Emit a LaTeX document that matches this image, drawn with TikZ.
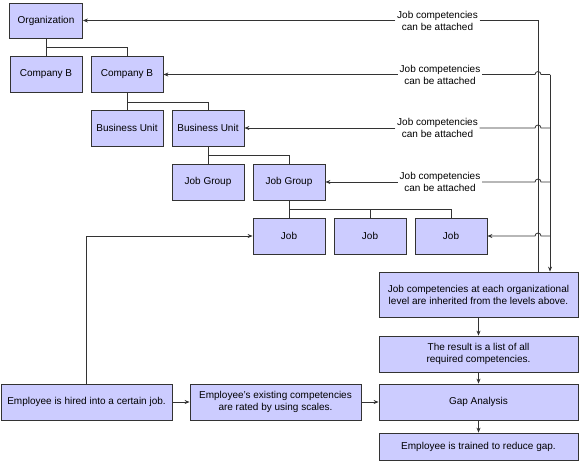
\documentclass[tikz,border=0pt]{standalone}
\usepackage{fontspec}
\setmainfont{Liberation Sans}
\usepackage{tikz}
\usetikzlibrary{arrows.meta}
\definecolor{boxfill}{RGB}{204,204,255}
\definecolor{boxline}{RGB}{51,51,51}

\begin{document}
\begin{tikzpicture}[x=1pt, y=1pt, ->, >={Stealth[length=5pt,width=4pt]}, boxline, line width=0.8pt,
  font=\fontsize{10}{12}\selectfont,
  every node/.style={text=black, align=center},
  unit/.style={draw=boxline, fill=boxfill, minimum width=72pt, minimum height=36pt, inner sep=0pt},
  flowbox/.style={unit, minimum width=199pt},
  attach/.style={inner sep=1.5pt}]
\useasboundingbox (0,0) rectangle (580,-463);
% organization levels
\node[unit, minimum width=73pt, minimum height=35pt] (org) at (46,-20.5) {Organization};
\node[unit] (comp1) at (46,-74.5) {Company B};
\node[unit] (comp2) at (127,-74.5) {Company B};
\node[unit] (bu1) at (127,-128) {Business Unit};
\node[unit] (bu2) at (208,-128) {Business Unit};
\node[unit] (jg1) at (208,-182) {Job Group};
\node[unit] (jg2) at (289,-182) {Job Group};
\node[unit] (job1) at (289,-236) {Job};
\node[unit] (job2) at (370,-236) {Job};
\node[unit] (job3) at (451,-236) {Job};
% process
\node[flowbox, minimum height=45pt] (inherit) at (478.5,-294.5) {Job competencies at each organizational\\level are inherited from the levels above.};
\node[flowbox] (result) at (478.5,-354) {The result is a list of all\\required competencies.};
\node[flowbox] (gap) at (478.5,-402) {Gap Analysis};
\node[flowbox, minimum height=27pt] (trained) at (478.5,-446.5) {Employee is trained to reduce gap.};
\node[unit, minimum width=171pt] (hired) at (86.5,-402) {Employee is hired into a certain job.};
\node[unit, minimum width=171pt] (rated) at (275.5,-402) {Employee's existing competencies\\are rated by using scales.};
% labels
\node[attach] (att1) at (437.5,-20.5) {Job competencies\\can be attached};
\node[attach] (att2) at (440,-74.5) {Job competencies\\can be attached};
\node[attach] (att3) at (437.5,-128) {Job competencies\\can be attached};
\node[attach] (att4) at (440,-182) {Job competencies\\can be attached};
\coordinate (trunkA) at (538,-20.5);
\coordinate (trunkB) at (550,-74.5);
% tree
\draw[-] (org) -- (comp1);
\draw[-] (org.south) -- ++(0,-9) -| (comp2.north);
\draw[-] (comp2) -- (bu1);
\draw[-] (comp2.south) -- ++(0,-9) -| (bu2.north);
\draw[-] (bu2) -- (jg1);
\draw[-] (bu2.south) -- ++(0,-9) -| (jg2.north);
\draw[-] (jg2) -- (job1);
\draw[-] (jg2.south) -- ++(0,-9) -| (job2.north);
\draw[-] (jg2.south) -- ++(0,-9) -| (job3.north);
% attachments
\draw (att1) -- (org);
\draw[-] (att1) -- (trunkA) -- (trunkA |- inherit.north);
\draw (att2) -- (comp2);
\draw[-] (att2) -- (535,-74.5) arc[start angle=180, end angle=0, radius=3] -- (trunkB);
\draw (trunkB) -- (trunkB |- inherit.north);
\draw (att3) -- (bu2);
\draw[-] (att3) -- (535,-128) arc[start angle=180, end angle=0, radius=3] -- (trunkB |- att3);
\draw (att4) -- (jg2);
\draw[-] (att4) -- (535,-182) arc[start angle=180, end angle=0, radius=3] -- (trunkB |- att4);
\draw (trunkB |- job3) -- (541,-236) arc[start angle=0, end angle=180, radius=3] -- (job3);
% flow
\draw (inherit) -- (result);
\draw (result) -- (gap);
\draw (gap) -- (trained);
\draw (hired) -- (rated);
\draw (rated) -- (gap);
\draw (hired) |- (job1);
\end{tikzpicture}
\end{document}
